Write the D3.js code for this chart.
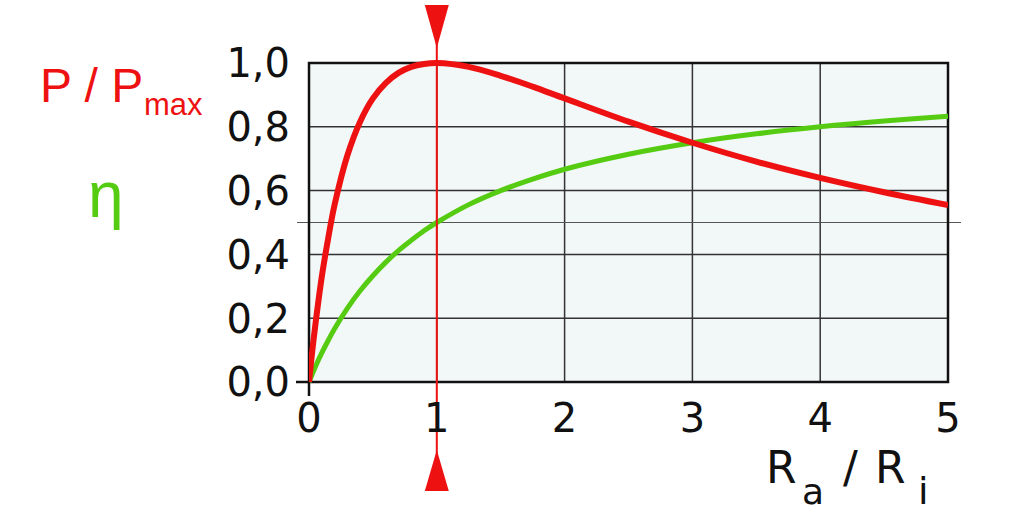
<!DOCTYPE html>
<html><head><meta charset="utf-8">
<script src="https://cdn.jsdelivr.net/npm/d3@7"></script>
<style>html,body{margin:0;padding:0;background:#fff;}svg{display:block;}</style>
</head><body>
<script>
const ratio = [0, 0.025, 0.05, 0.1, 0.15, 0.2, 0.3, 0.4, 0.5, 0.6, 0.7, 0.8, 0.9, 1.0, 1.25, 1.5, 1.75, 2, 2.5, 3, 3.5, 4, 4.5, 5];
const powerRel = [0, 0.095, 0.18, 0.33, 0.45, 0.555, 0.71, 0.816, 0.889, 0.937, 0.969, 0.988, 0.997, 1.0, 0.988, 0.96, 0.926, 0.889, 0.816, 0.75, 0.691, 0.64, 0.595, 0.555];
const efficiency = [0, 0.024, 0.048, 0.091, 0.13, 0.167, 0.231, 0.286, 0.333, 0.375, 0.412, 0.444, 0.474, 0.5, 0.556, 0.6, 0.636, 0.667, 0.714, 0.75, 0.778, 0.8, 0.818, 0.833];
const xTicks = [0, 1, 2, 3, 4, 5];
const yTicks = [0, 0.2, 0.4, 0.6, 0.8, 1.0];
const yTickLabels = ["0,0", "0,2", "0,4", "0,6", "0,8", "1,0"];
const markerX = 1;
const halfLine = 0.5;

const W = 1012, H = 512;
const svg = d3.select("body").append("svg").attr("width", W).attr("height", H);
const x = d3.scaleLinear().domain([0, 5]).range([309, 948]);
const y = d3.scaleLinear().domain([0, 1]).range([382, 63]);

// plot background
svg.append("rect").attr("x", x(0)).attr("y", y(1)).attr("width", x(5) - x(0)).attr("height", y(0) - y(1))
  .attr("fill", "#f2f7f8");

// grid
const grid = svg.append("g");
grid.selectAll(".gx").data(xTicks.slice(1, -1)).join("line")
  .attr("x1", d => x(d)).attr("x2", d => x(d)).attr("y1", y(0)).attr("y2", y(1))
  .attr("stroke", "#333").attr("stroke-width", 1.5);
grid.selectAll(".gy").data(yTicks.slice(1, -1)).join("line")
  .attr("x1", x(0)).attr("x2", x(5)).attr("y1", d => y(d)).attr("y2", d => y(d))
  .attr("stroke", "#333").attr("stroke-width", 1.5);

// half line
svg.append("line").attr("x1", 297).attr("x2", 961).attr("y1", y(halfLine)).attr("y2", y(halfLine))
  .attr("stroke", "#555").attr("stroke-width", 1.2);

// border
svg.append("rect").attr("x", x(0)).attr("y", y(1)).attr("width", x(5) - x(0)).attr("height", y(0) - y(1))
  .attr("fill", "none").attr("stroke", "#111").attr("stroke-width", 2.5);
// axis extensions at origin
svg.append("line").attr("x1", 296).attr("x2", x(0)).attr("y1", y(0)).attr("y2", y(0)).attr("stroke", "#111").attr("stroke-width", 2.5);
svg.append("line").attr("x1", x(0)).attr("x2", x(0)).attr("y1", y(0)).attr("y2", 396).attr("stroke", "#111").attr("stroke-width", 2.5);

// curves
const clipId = "clip";
svg.append("clipPath").attr("id", clipId).append("rect")
  .attr("x", x(0)).attr("y", y(1) - 6).attr("width", x(5) - x(0)).attr("height", y(0) - y(1) + 12);
const line = d3.line().x((d, i) => x(ratio[i])).curve(d3.curveCatmullRom.alpha(0.5));
svg.append("path").datum(efficiency).attr("clip-path", `url(#${clipId})`)
  .attr("d", line.y(d => y(d))).attr("fill", "none").attr("stroke", "#55cc11").attr("stroke-width", 5);
svg.append("path").datum(powerRel).attr("clip-path", `url(#${clipId})`)
  .attr("d", line.y(d => y(d))).attr("fill", "none").attr("stroke", "#ee1111").attr("stroke-width", 6)
  .attr("stroke-linejoin", "round");

// marker line
const mx = x(markerX);
svg.append("line").attr("x1", mx).attr("x2", mx).attr("y1", 5).attr("y2", 491).attr("stroke", "#ee1111").attr("stroke-width", 2);
svg.append("path").attr("d", `M${mx - 12},5 L${mx + 12},5 L${mx},48 Z`).attr("fill", "#ee1111");
svg.append("path").attr("d", `M${mx - 12},491 L${mx + 12},491 L${mx},450 Z`).attr("fill", "#ee1111");

// tick labels
const font = "DejaVu Sans, sans-serif";
svg.selectAll(".yl").data(yTicks).join("text")
  .attr("x", 290).attr("y", d => y(d)).attr("dy", "0.36em").attr("text-anchor", "end")
  .attr("font-family", font).attr("font-size", 40).attr("fill", "#111")
  .text((d, i) => yTickLabels[i]);
svg.selectAll(".xl").data(xTicks).join("text")
  .attr("x", d => x(d)).attr("y", 432).attr("text-anchor", "middle")
  .attr("font-family", font).attr("font-size", 40).attr("fill", "#111")
  .text(d => d);

// axis title
const t = svg.append("g").attr("font-family", font).attr("fill", "#111");
t.append("text").attr("x", 766).attr("y", 483).attr("font-size", 44).text("R");
t.append("text").attr("x", 802).attr("y", 504).attr("font-size", 36).text("a");
t.append("text").attr("x", 843).attr("y", 483).attr("font-size", 44).text("/");
t.append("text").attr("x", 875).attr("y", 483).attr("font-size", 44).text("R");
t.append("text").attr("x", 918).attr("y", 504).attr("font-size", 38).text("i");

// legend labels
const lf = "Liberation Sans, Arial, sans-serif";
svg.append("text").attr("x", 40).attr("y", 102).attr("font-family", lf).attr("font-size", 48).attr("fill", "#ee1111").text("P / P");
svg.append("text").attr("x", 144).attr("y", 115).attr("font-family", lf).attr("font-size", 31).attr("fill", "#ee1111").text("max");
svg.append("text").attr("x", 88).attr("y", 217).attr("font-family", lf).attr("font-size", 64).attr("fill", "#55cc11").text("η");
</script>
</body></html>
